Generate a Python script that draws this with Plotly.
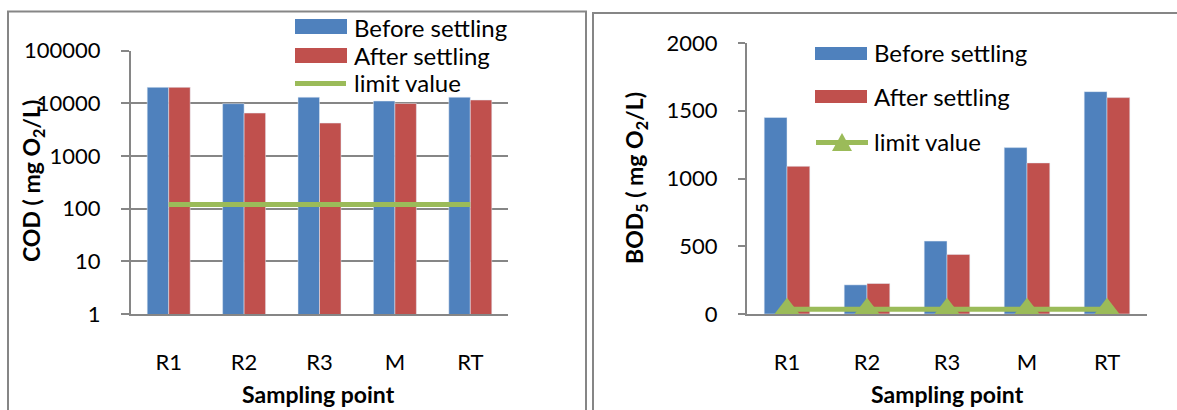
import plotly.graph_objects as go

W, H = 1177, 410

categories = ["R1", "R2", "R3", "M", "RT"]
cod_before = [20000, 9800, 13000, 11000, 13000]
cod_after = [20000, 6500, 4200, 9900, 11500]
cod_limit = [120, 120, 120, 120, 120]
bod_before = [1450, 215, 538, 1228, 1641]
bod_after = [1090, 225, 440, 1115, 1597]
bod_limit = [35, 35, 35, 35, 35]
cod_ticks = [1, 10, 100, 1000, 10000, 100000]
cod_ticktext = ["1", "10", "100", "1000", "10000", "100000"]
bod_ticks = [0, 500, 1000, 1500, 2000]

BLUE = "#4F81BD"
RED = "#C0504D"
GREEN = "#9BBB59"
GRAY = "#868686"
FONT = "Lato"


def px(x):
    return x / W


def py(y):
    return 1 - y / H


fig = go.Figure()

# Left chart (COD, log scale)
fig.add_trace(go.Bar(x=categories, y=cod_before, marker_color=BLUE, name="Before settling",
                     xaxis="x", yaxis="y", showlegend=False))
fig.add_trace(go.Bar(x=categories, y=cod_after, marker_color=RED, name="After settling",
                     xaxis="x", yaxis="y", showlegend=False))
fig.add_trace(go.Scatter(x=categories, y=cod_limit, mode="lines", line=dict(color=GREEN, width=5),
                         name="limit value", xaxis="x", yaxis="y", showlegend=False))

# Right chart (BOD5)
fig.add_trace(go.Bar(x=categories, y=bod_before, marker_color=BLUE, name="Before settling",
                     xaxis="x2", yaxis="y2", showlegend=False))
fig.add_trace(go.Bar(x=categories, y=bod_after, marker_color=RED, name="After settling",
                     xaxis="x2", yaxis="y2", showlegend=False))
fig.add_trace(go.Scatter(x=categories, y=bod_limit, mode="lines+markers",
                         line=dict(color=GREEN, width=5),
                         marker=dict(symbol="triangle-up", size=23, color=GREEN),
                         name="limit value", xaxis="x2", yaxis="y2", showlegend=False))

tickfont = dict(family=FONT, size=22, color="#000000")

fig.update_layout(
    width=W, height=H,
    margin=dict(l=0, r=0, t=0, b=0, autoexpand=False),
    paper_bgcolor="white", plot_bgcolor="white",
    barmode="group", bargap=0.43, bargroupgap=0,
    font=dict(family=FONT, size=22, color="#000000"),
    xaxis=dict(domain=[px(131), px(508)], anchor="y", showline=True, linecolor=GRAY, linewidth=2,
               ticks="", tickfont=tickfont, ticklabelstandoff=28, showgrid=False, automargin=False),
    yaxis=dict(domain=[py(314), py(50.5)], anchor="x", type="log", range=[0, 5],
               tickvals=cod_ticks, ticktext=cod_ticktext, showgrid=True, gridcolor=GRAY, gridwidth=2,
               showline=True, linecolor=GRAY, linewidth=2, ticks="outside", ticklen=8,
               tickcolor=GRAY, tickwidth=2, tickfont=tickfont, ticklabelstandoff=16,
               zeroline=False, automargin=False),
    xaxis2=dict(domain=[px(747), px(1147)], anchor="y2", showline=True, linecolor=GRAY, linewidth=2,
                ticks="", tickfont=tickfont, ticklabelstandoff=28, showgrid=False, automargin=False),
    yaxis2=dict(domain=[py(314), py(43)], anchor="x2", range=[0, 2000], tickvals=bod_ticks,
                showgrid=False, zeroline=False, showline=True, linecolor=GRAY, linewidth=2,
                ticks="outside", ticklen=7, tickcolor=GRAY, tickwidth=2, tickfont=tickfont,
                ticklabelstandoff=16, automargin=False),
)

shapes = []
# Panel frames
shapes.append(dict(type="rect", xref="paper", yref="paper", x0=px(8), x1=px(586), y0=py(430), y1=py(11.5),
                   line=dict(color=GRAY, width=2), fillcolor="rgba(0,0,0,0)", layer="below"))
shapes.append(dict(type="rect", xref="paper", yref="paper", x0=px(593), x1=px(1190), y0=py(430), y1=py(13),
                   line=dict(color=GRAY, width=2), fillcolor="rgba(0,0,0,0)", layer="below"))

# Legend swatches (left)
shapes.append(dict(type="rect", xref="paper", yref="paper", x0=px(295), x1=px(347), y0=py(34), y1=py(19),
                   line=dict(width=0), fillcolor=BLUE))
shapes.append(dict(type="rect", xref="paper", yref="paper", x0=px(295), x1=px(347), y0=py(63), y1=py(48),
                   line=dict(width=0), fillcolor=RED))
shapes.append(dict(type="line", xref="paper", yref="paper", x0=px(295), x1=px(346), y0=py(83.5), y1=py(83.5),
                   line=dict(color=GREEN, width=5)))
# Legend swatches (right)
shapes.append(dict(type="rect", xref="paper", yref="paper", x0=px(815), x1=px(867), y0=py(60), y1=py(47),
                   line=dict(width=0), fillcolor=BLUE))
shapes.append(dict(type="rect", xref="paper", yref="paper", x0=px(815), x1=px(867), y0=py(103), y1=py(90),
                   line=dict(width=0), fillcolor=RED))
shapes.append(dict(type="line", xref="paper", yref="paper", x0=px(816), x1=px(868), y0=py(142.5), y1=py(142.5),
                   line=dict(color=GREEN, width=5)))
tri = "M {},{} L {},{} L {},{} Z".format(px(832), py(151), px(852), py(151), px(842), py(133))
shapes.append(dict(type="path", xref="paper", yref="paper", path=tri, line=dict(width=0), fillcolor=GREEN))
fig.update_layout(shapes=shapes)

ann = []
legfont = dict(family=FONT, size=24, color="#000000")
for x, y, t in [(352, 27, "Before settling"), (352, 55, "After settling"), (352, 83, "limit value"),
                (872, 52, "Before settling"), (872, 96.5, "After settling"), (872, 141, "limit value")]:
    ann.append(dict(x=px(x), y=py(y), xref="paper", yref="paper", text=t, showarrow=False,
                    xanchor="left", yanchor="middle", font=legfont))
titlefont = dict(family=FONT, size=23, color="#000000")
ann.append(dict(x=px(319), y=py(394), xref="paper", yref="paper", text="<b>Sampling point</b>",
                showarrow=False, xanchor="center", yanchor="middle", font=titlefont))
ann.append(dict(x=px(947), y=py(394), xref="paper", yref="paper", text="<b>Sampling point</b>",
                showarrow=False, xanchor="center", yanchor="middle", font=titlefont))
ann.append(dict(x=px(33), y=py(181), xref="paper", yref="paper", text="<b>COD ( mg O<sub>2</sub>/L)</b>",
                showarrow=False, xanchor="center", yanchor="middle", textangle=-90, font=titlefont))
ann.append(dict(x=px(636), y=py(178), xref="paper", yref="paper", text="<b>BOD<sub>5</sub> ( mg O<sub>2</sub>/L)</b>",
                showarrow=False, xanchor="center", yanchor="middle", textangle=-90, font=titlefont))
fig.update_layout(annotations=ann)

fig.write_html("out.html")
